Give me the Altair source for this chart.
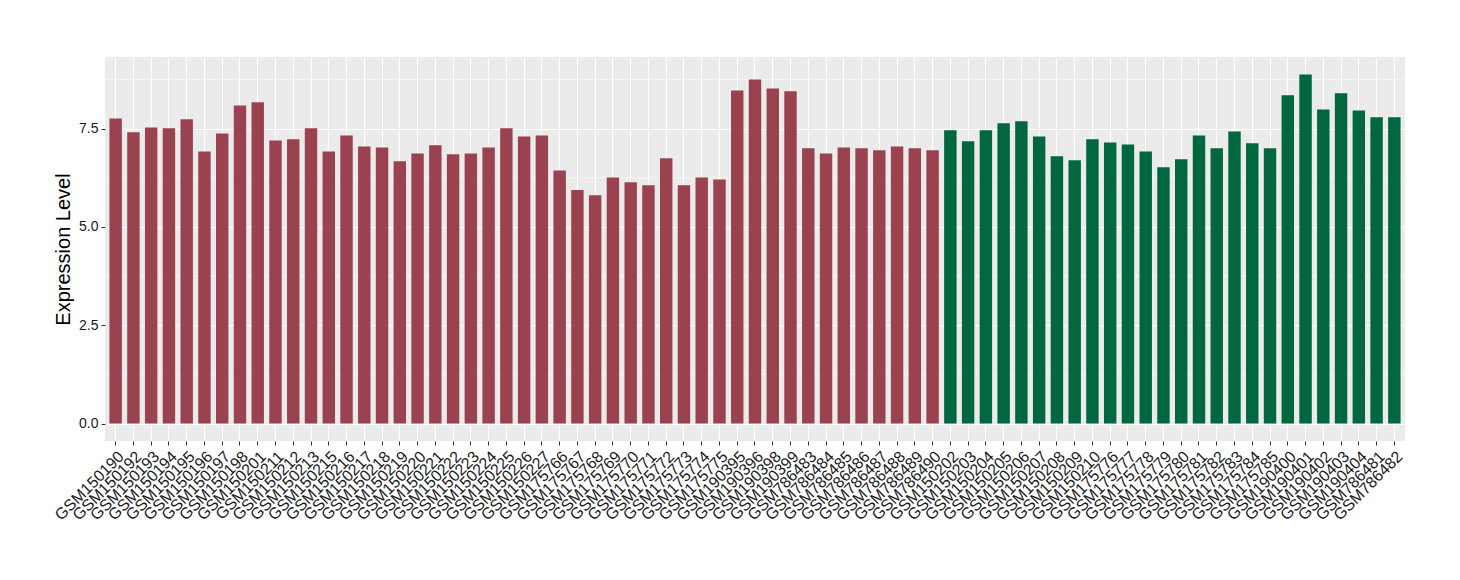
import altair as alt
import pandas as pd

samples_red = [
    "GSM150190", "GSM150192", "GSM150193", "GSM150194", "GSM150195", "GSM150196",
    "GSM150197", "GSM150198", "GSM150201", "GSM150211", "GSM150212", "GSM150213",
    "GSM150215", "GSM150216", "GSM150217", "GSM150218", "GSM150219", "GSM150220",
    "GSM150221", "GSM150222", "GSM150223", "GSM150224", "GSM150225", "GSM150226",
    "GSM150227", "GSM175766", "GSM175767", "GSM175768", "GSM175769", "GSM175770",
    "GSM175771", "GSM175772", "GSM175773", "GSM175774", "GSM175775", "GSM190395",
    "GSM190396", "GSM190398", "GSM190399", "GSM786483", "GSM786484", "GSM786485",
    "GSM786486", "GSM786487", "GSM786488", "GSM786489", "GSM786490",
]
values_red = [
    7.76, 7.41, 7.53, 7.51, 7.74, 6.92, 7.38, 8.09, 8.17, 7.20, 7.23, 7.51,
    6.92, 7.33, 7.05, 7.02, 6.67, 6.87, 7.08, 6.85, 6.87, 7.02, 7.51, 7.30,
    7.33, 6.44, 5.94, 5.81, 6.26, 6.14, 6.06, 6.75, 6.06, 6.26, 6.21, 8.47,
    8.75, 8.52, 8.45, 7.00, 6.87, 7.02, 7.00, 6.95, 7.05, 7.00, 6.95,
]
samples_green = [
    "GSM150202", "GSM150203", "GSM150204", "GSM150205", "GSM150206", "GSM150207",
    "GSM150208", "GSM150209", "GSM150210", "GSM175776", "GSM175777", "GSM175778",
    "GSM175779", "GSM175780", "GSM175781", "GSM175782", "GSM175783", "GSM175784",
    "GSM175785", "GSM190400", "GSM190401", "GSM190402", "GSM190403", "GSM190404",
    "GSM786481", "GSM786482",
]
values_green = [
    7.46, 7.18, 7.46, 7.64, 7.69, 7.30, 6.80, 6.70, 7.23, 7.15, 7.10, 6.92,
    6.52, 6.72, 7.33, 7.00, 7.43, 7.13, 7.00, 8.35, 8.88, 7.99, 8.40, 7.96,
    7.79, 7.79,
]
groups = ["A", "B"]
group_colors = ["#9A4250", "#00673F"]
y_ticks = [0, 2.5, 5, 7.5]
y_minor = [1.25, 3.75, 6.25, 8.75]

df = pd.DataFrame({
    "sample": samples_red + samples_green,
    "value": values_red + values_green,
    "group": [groups[0]] * len(samples_red) + [groups[1]] * len(samples_green),
})
order = list(df["sample"])
minor_df = pd.DataFrame({"y": y_minor})

vmax = max(df["value"])
pad = vmax * 0.05
y_scale = alt.Scale(domain=[-pad, vmax + pad], nice=False, zero=False)

x_enc = alt.X(
    "sample:N", sort=order, title=None,
    scale=alt.Scale(paddingInner=0.3, paddingOuter=0.25),
    axis=alt.Axis(
        labelAngle=-45, labelAlign="right", labelBaseline="top",
        labelFontSize=16, labelColor="#1a1a1a", labelPadding=3,
        labelFont="Liberation Sans", labelOverlap=False,
        bandPosition=0.5, grid=True, gridColor="white", gridWidth=1.1,
        ticks=True, tickColor="#333333", tickSize=4, tickWidth=1,
        domain=False,
    ),
)

minor = alt.Chart(minor_df).mark_rule(color="white", strokeWidth=0.55).encode(
    y=alt.Y("y:Q", scale=y_scale)
)

bars = alt.Chart(df).mark_bar().encode(
    x=x_enc,
    y=alt.Y(
        "value:Q", scale=y_scale, title="Expression Level",
        axis=alt.Axis(
            values=y_ticks, format=".1f", grid=True, gridColor="white", gridWidth=1.1,
            labelFontSize=14, labelColor="#1a1a1a", labelFont="Liberation Sans",
            labelPadding=3, tickColor="#333333", tickSize=4, tickWidth=1,
            titleFontSize=20, titleFont="Liberation Sans", titleFontWeight="normal",
            titleColor="#000000", titlePadding=5, domain=False,
        ),
    ),
    color=alt.Color("group:N", scale=alt.Scale(domain=groups, range=group_colors), legend=None),
)

chart = alt.layer(minor, bars).properties(
    width=1300, height=384,
    background="white",
    autosize=alt.AutoSizeParams(type="none"),
    padding={"left": 97, "top": 49, "right": 47, "bottom": 131},
).configure_view(fill="#EBEBEB", strokeWidth=0)

chart.save("out.html", embed_options={"renderer": "svg", "actions": False})
